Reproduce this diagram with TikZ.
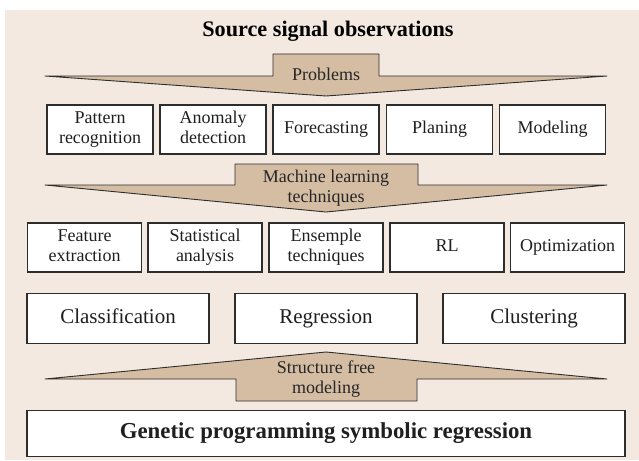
\documentclass[tikz,border=0pt]{standalone}
\usepackage{fontspec}
\setmainfont{Liberation Serif}
\definecolor{panel}{RGB}{243,233,224}
\definecolor{tanfill}{RGB}{213,189,163}
\definecolor{edge}{RGB}{45,45,45}

\begin{document}
\begin{tikzpicture}[x=1pt,y=-1pt,
  box/.style={draw=edge, fill=white, line width=1.1pt, inner sep=0pt,
    align=center, text=black!88, font=\fontsize{18}{20}\selectfont},
  smallbox/.style={box, minimum width=106pt, minimum height=49pt},
  midbox/.style={box, minimum width=114pt, minimum height=49pt},
  bigbox/.style={box, minimum width=182pt, minimum height=50pt,
    font=\fontsize{21}{23}\selectfont},
  band/.style={draw=edge, fill=tanfill, line width=0.9pt, line join=round},
  lbl/.style={inner sep=0pt, align=center, text=black!85,
    font=\fontsize{18}{20}\selectfont}]

\useasboundingbox (0,0) rectangle (639,460);
\fill[panel] (5,10) rectangle (639,460);

% heading
\node[inner sep=0pt, font=\bfseries\fontsize{22.2}{24}\selectfont] (title)
  at (328,32) {\strut Source signal observations};

% downward band: problems
\draw[band] (45,76) -- (273,76) -- (273,54) -- (379,54) -- (379,76)
  -- (607,76) -- (326,96) -- cycle;
\node[lbl] (prob) at (326,76) {\strut Problems};

% problem types
\node[smallbox] (pat) at (100,129.5) {\strut Pattern\\\strut recognition};
\node[smallbox] (ano) at (213,129.5) {\strut Anomaly\\\strut detection};
\node[smallbox] (fore) at (326,129.5) {\strut Forecasting};
\node[smallbox] (plan) at (439.5,129.5) {\strut Planing};
\node[smallbox] (mod) at (552.5,129.5) {\strut Modeling};

% downward band: machine learning techniques
\draw[band] (45,185) -- (235,185) -- (235,164) -- (418,164) -- (418,185)
  -- (607,185) -- (326,212) -- cycle;
\node[lbl] (mlt) at (326,188) {\strut Machine learning\\\strut techniques};

% techniques
\node[midbox] (feat) at (84.5,247.5) {\strut Feature\\\strut extraction};
\node[midbox] (stat) at (205,247.5) {\strut Statistical\\\strut analysis};
\node[midbox] (ens) at (326,247.5) {\strut Ensemple\\\strut techniques};
\node[midbox] (rl) at (447,247.5) {\strut RL};
\node[midbox] (opt) at (567.5,247.5) {\strut Optimization};

% tasks
\node[bigbox] (cls) at (118,318.5) {\strut Classification};
\node[bigbox] (reg) at (326,318.5) {\strut Regression};
\node[bigbox] (clu) at (534,318.5) {\strut Clustering};

% upward band: structure free modeling
\draw[band] (45,379) -- (236,379) -- (236,401) -- (417,401) -- (417,379)
  -- (607,379) -- (326,352) -- cycle;
\node[lbl] (sfm) at (326,379) {\strut Structure free\\\strut modeling};

% base method
\node[box, minimum width=598pt, minimum height=46pt,
  font=\bfseries\fontsize{22.8}{24}\selectfont] (gpsr) at (326,433.5)
  {\strut Genetic programming symbolic regression};
\end{tikzpicture}
\end{document}
